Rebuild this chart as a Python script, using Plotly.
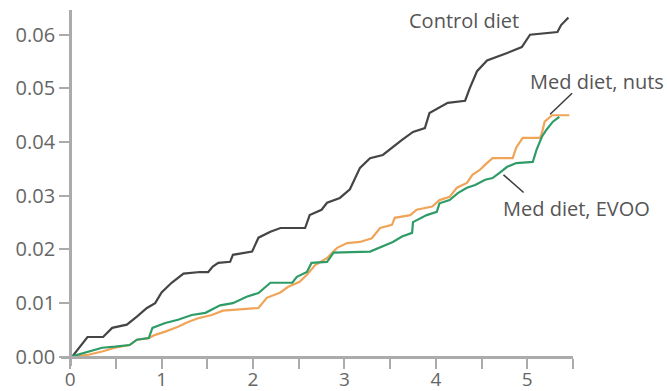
import plotly.graph_objects as go

# Cumulative incidence by years of follow-up
control_t = [0.0, 0.02, 0.19, 0.36, 0.46, 0.62, 0.73, 0.84, 0.93, 1.0, 1.11, 1.24, 1.42, 1.51,
             1.56, 1.62, 1.75, 1.78, 1.99, 2.06, 2.19, 2.30, 2.57, 2.62, 2.75, 2.81, 2.95,
             3.06, 3.17, 3.28, 3.42, 3.52, 3.63, 3.75, 3.88, 3.93, 4.13, 4.32, 4.37, 4.45,
             4.56, 4.78, 4.94, 5.03, 5.33, 5.37, 5.45]
control_v = [0.0, 0.0, 0.0037, 0.0037, 0.0054, 0.006, 0.0075, 0.0091, 0.010, 0.012, 0.0138,
             0.0155, 0.0158, 0.0158, 0.0168, 0.0175, 0.0177, 0.019, 0.0196, 0.0222, 0.0233,
             0.024, 0.024, 0.0264, 0.0274, 0.0287, 0.0296, 0.0312, 0.0352, 0.037, 0.0376,
             0.039, 0.0404, 0.0419, 0.0426, 0.0454, 0.0473, 0.0477, 0.050, 0.0532, 0.0552,
             0.0566, 0.0577, 0.060, 0.0605, 0.0618, 0.0632]

nuts_t = [0.0, 0.2, 0.35, 0.49, 0.65, 0.73, 0.86, 0.93, 1.04, 1.18, 1.29, 1.40, 1.55, 1.67,
          2.06, 2.15, 2.30, 2.38, 2.51, 2.59, 2.68, 2.81, 2.92, 3.03, 3.17, 3.30, 3.39,
          3.52, 3.55, 3.72, 3.79, 3.96, 4.04, 4.15, 4.23, 4.34, 4.40, 4.48, 4.54, 4.62,
          4.84, 4.88, 4.95, 5.14, 5.16, 5.19, 5.27, 5.46]
nuts_v = [0.0, 0.0004, 0.001, 0.0017, 0.0022, 0.0032, 0.0035, 0.0041, 0.0047, 0.0056, 0.0065,
          0.0072, 0.0078, 0.0086, 0.0091, 0.011, 0.012, 0.013, 0.014, 0.0153, 0.0171, 0.0184,
          0.0203, 0.0212, 0.0214, 0.0221, 0.024, 0.0246, 0.0259, 0.0264, 0.0274, 0.028,
          0.0292, 0.0298, 0.0315, 0.0324, 0.0339, 0.0348, 0.0358, 0.037, 0.037, 0.039,
          0.0408, 0.0408, 0.0417, 0.0438, 0.045, 0.045]

evoo_t = [0.0, 0.2, 0.35, 0.49, 0.65, 0.73, 0.86, 0.90, 1.04, 1.18, 1.33, 1.48, 1.58, 1.64,
          1.78, 1.93, 2.06, 2.19, 2.43, 2.48, 2.59, 2.64, 2.81, 2.88, 3.28, 3.41, 3.53,
          3.63, 3.74, 3.75, 3.90, 4.01, 4.04, 4.15, 4.24, 4.34, 4.43, 4.54, 4.62, 4.70,
          4.78, 4.88, 5.06, 5.10, 5.16, 5.21, 5.28, 5.35]
evoo_v = [0.0, 0.001, 0.0017, 0.0019, 0.0022, 0.0032, 0.0035, 0.0054, 0.0063, 0.0069, 0.0078,
          0.0082, 0.0091, 0.0096, 0.010, 0.0112, 0.0119, 0.0138, 0.0138, 0.0149, 0.0158,
          0.0175, 0.0177, 0.0194, 0.0196, 0.0205, 0.0214, 0.0224, 0.0231, 0.0251, 0.0264,
          0.027, 0.0286, 0.0292, 0.0305, 0.0315, 0.032, 0.033, 0.0333, 0.0343, 0.0354,
          0.0361, 0.0363, 0.0385, 0.041, 0.0423, 0.0438, 0.0447]

x_ticks = [0, 0.5, 1, 1.5, 2, 2.5, 3, 3.5, 4, 4.5, 5, 5.5]
x_tick_text = ["0", "", "1", "", "2", "", "3", "", "4", "", "5", ""]
y_ticks = [0.0, 0.01, 0.02, 0.03, 0.04, 0.05, 0.06]

# Series labels: text, label centre (years, incidence), leader line (from, to)
labels = [
    ("Control diet", 4.31, 0.0626, None),
    ("Med diet, nuts", 5.76, 0.0512, ((5.49, 0.0491), (5.25, 0.0452))),
    ("Med diet, EVOO", 5.54, 0.0276, ((4.74, 0.0339), (4.96, 0.0306))),
]

X_RANGE = [-0.1, 5.5]
Y_RANGE = [-0.0017, 0.0646]
AXIS_GREY = "#ababab"
TEXT_GREY = "#555555"
FONT = "Open Sans"
FONT_SIZE = 20


def to_paper(val, rng):
    return (val - rng[0]) / (rng[1] - rng[0])


fig = go.Figure()
for t, v, color in [(control_t, control_v, "#454545"),
                    (nuts_t, nuts_v, "#f0a458"),
                    (evoo_t, evoo_v, "#2f9c68")]:
    fig.add_trace(go.Scatter(x=t, y=v, mode="lines",
                             line=dict(color=color, width=2.2),
                             hoverinfo="skip", showlegend=False))

for text, lx, ly, leader in labels:
    fig.add_annotation(x=to_paper(lx, X_RANGE), y=to_paper(ly, Y_RANGE),
                       xref="paper", yref="paper", text=text, showarrow=False,
                       xanchor="center", yanchor="middle",
                       font=dict(family=FONT, size=FONT_SIZE, color=TEXT_GREY))
    if leader:
        (x0, y0), (x1, y1) = leader
        fig.add_shape(type="line", xref="x", yref="y", x0=x0, y0=y0, x1=x1, y1=y1,
                      line=dict(color="#3a3a3a", width=1.5))

fig.update_layout(
    width=667, height=391,
    margin=dict(l=61, r=94, t=10, b=25, autoexpand=False),
    paper_bgcolor="white", plot_bgcolor="white",
    font=dict(family=FONT, size=FONT_SIZE, color=TEXT_GREY),
    xaxis=dict(range=X_RANGE, showgrid=False, zeroline=False, automargin=False,
               showline=True, linecolor=AXIS_GREY, linewidth=3,
               anchor="free", position=to_paper(0, Y_RANGE),
               tickmode="array", tickvals=x_ticks, ticktext=x_tick_text,
               ticks="outside", ticklen=10, tickwidth=2, tickcolor=AXIS_GREY,
               ticklabelstandoff=-6,
               tickfont=dict(family=FONT, size=FONT_SIZE - 1, color="#666666")),
    yaxis=dict(range=Y_RANGE, showgrid=False, zeroline=False, automargin=False,
               showline=True, linecolor=AXIS_GREY, linewidth=3,
               anchor="free", position=to_paper(0, X_RANGE),
               tickmode="array", tickvals=y_ticks, tickformat=".2f",
               ticks="outside", ticklen=10, tickwidth=2, tickcolor=AXIS_GREY,
               tickfont=dict(family=FONT, size=FONT_SIZE, color="#666666")),
)

fig.write_html("out.html")
